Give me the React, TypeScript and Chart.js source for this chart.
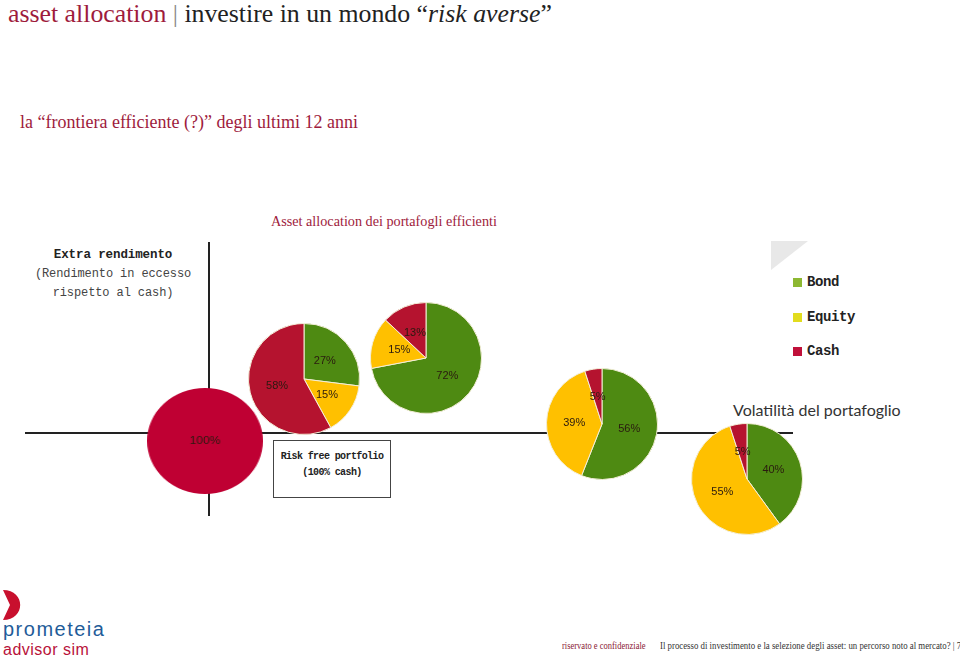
import React, { useEffect, useRef } from "react";
import { Chart, registerables } from "chart.js";

Chart.register(...registerables);

// ---- data ----
const categories = ["Bond", "Equity", "Cash"];
const portfolios = ["Risk free", "P1", "P2", "P3", "P4"];
const bondShare = [0, 27, 72, 56, 40];
const equityShare = [0, 15, 15, 39, 55];
const cashShare = [100, 58, 13, 5, 5];

const sliceColors = ["#4E8A12", "#FFC000", "#B5132F"];
const riskFreeColor = "#BF0033";
const legendColors = ["#8DB832", "#E2DC1E", "#C0103A"];

// layout of each pie on the slide: centre x, centre y, radius x, radius y
const pieLayout = [
  [205, 441, 58, 53],
  [304, 379, 56, 56],
  [426, 358, 56, 56],
  [602, 424, 56, 56],
  [747, 479, 56, 56],
];

const labelPlugin = {
  id: "sliceLabels",
  afterDatasetsDraw(chart: any) {
    const ctx = chart.ctx;
    const meta = chart.getDatasetMeta(0);
    const data = chart.data.datasets[0].data;
    ctx.save();
    ctx.font = '11px "Liberation Sans", Arial, sans-serif';
    ctx.fillStyle = "#2a1a10";
    ctx.textAlign = "center";
    ctx.textBaseline = "middle";
    meta.data.forEach((arc: any, i: number) => {
      const v = data[i];
      if (!v) return;
      let p;
      if (arc.circumference >= Math.PI * 2 - 0.001) {
        p = { x: arc.x, y: arc.y };
      } else {
        p = arc.tooltipPosition(false);
      }
      ctx.fillText(v + "%", p.x, p.y);
    });
    ctx.restore();
  },
};

function Pie({ index }: { index: number }) {
  const ref = useRef<HTMLCanvasElement>(null);
  const [cx, cy, rx, ry] = pieLayout[index];
  const size = Math.min(rx, ry) * 2;
  useEffect(() => {
    if (!ref.current) return;
    const values = [bondShare[index], equityShare[index], cashShare[index]];
    const single = values.filter((v) => v > 0).length === 1;
    const chart = new Chart(ref.current, {
      type: "pie",
      data: {
        labels: categories,
        datasets: [
          {
            data: values,
            backgroundColor: index === 0 ? [sliceColors[0], sliceColors[1], riskFreeColor] : sliceColors,
            borderColor: "#F3EED8",
            borderWidth: single ? 0 : values.map((v) => (v > 0 ? 1 : 0)),
          },
        ],
      },
      options: {
        responsive: false,
        animation: false,
        events: [],
        layout: { padding: 0 },
        plugins: { legend: { display: false }, tooltip: { enabled: false } },
      },
      plugins: [labelPlugin],
    });
    return () => chart.destroy();
  }, [index]);
  return (
    <canvas
      ref={ref}
      width={size}
      height={size}
      style={{
        position: "absolute",
        left: cx - rx,
        top: cy - ry,
        width: rx * 2,
        height: ry * 2,
      }}
    />
  );
}

const slabFont = '"Liberation Mono", "Courier New", monospace';
const serif = '"Liberation Serif", "Times New Roman", serif';
const logoFont = '"Liberation Sans", Arial, sans-serif';
const red = "#9E1B3C";

export default function App() {
  return (
    <div
      style={{
        position: "fixed",
        left: 0,
        top: 0,
        width: 960,
        height: 658,
        background: "#fff",
        overflow: "hidden",
        fontFamily: serif,
      }}
    >
      {/* title */}
      <div style={{ position: "absolute", left: 8, top: 0, fontSize: 25.8, lineHeight: "28px", whiteSpace: "nowrap", color: "#222" }}>
        <span style={{ color: red }}>asset allocation</span>
        <span style={{ color: "#888", fontWeight: 300 }}> | </span>
        <span>investire in un mondo “<i>risk averse</i>”</span>
      </div>
      <div style={{ position: "absolute", left: 20, top: 111, fontSize: 18, lineHeight: "22px", color: red, whiteSpace: "nowrap" }}>
        la “frontiera efficiente (?)” degli ultimi 12 anni
      </div>
      <div style={{ position: "absolute", left: 271, top: 211, fontSize: 14.2, lineHeight: "20px", color: red, whiteSpace: "nowrap" }}>
        Asset allocation dei portafogli efficienti
      </div>

      {/* y-axis label */}
      <div
        style={{
          position: "absolute",
          left: 23,
          top: 246,
          width: 180,
          textAlign: "center",
          fontFamily: slabFont,
          fontSize: 12,
          lineHeight: "19px",
          color: "#222",
          letterSpacing: -0.1,
          whiteSpace: "nowrap",
        }}
      >
        <div style={{ fontWeight: "bold", fontSize: 12.5 }}>Extra rendimento</div>
        <div style={{ color: "#444" }}>(Rendimento in eccesso</div>
        <div style={{ color: "#444" }}>rispetto al cash)</div>
      </div>

      {/* axes */}
      <div style={{ position: "absolute", left: 25, top: 432, width: 768, height: 2, background: "#222" }} />
      <div style={{ position: "absolute", left: 208, top: 242, width: 2, height: 274, background: "#222" }} />

      {/* risk free box */}
      <div
        style={{
          position: "absolute",
          left: 273,
          top: 440,
          width: 116,
          height: 48,
          border: "1px solid #444",
          fontFamily: slabFont,
          fontSize: 10,
          lineHeight: "16px",
          color: "#222",
          letterSpacing: -0.6,
          fontWeight: "bold",
          textAlign: "center",
          paddingTop: 8,
          boxSizing: "content-box",
          whiteSpace: "nowrap",
        }}
      >
        <div>Risk free portfolio</div>
        <div>(100% cash)</div>
      </div>

      {/* pies */}
      {portfolios.map((_, i) => (
        <Pie key={i} index={i} />
      ))}

      {/* legend decoration */}
      <svg style={{ position: "absolute", left: 771, top: 241 }} width={38} height={30}>
        <polygon points="0,0 37,0 0,29" fill="#E8E8E8" />
      </svg>
      {categories.map((c, i) => (
        <div key={c} style={{ position: "absolute", left: 793, top: 274 + i * 34.5, height: 16, whiteSpace: "nowrap" }}>
          <span style={{ position: "absolute", left: 0, top: 4, width: 9, height: 9, background: legendColors[i] }} />
          <span style={{ position: "absolute", left: 14, top: 0, fontFamily: slabFont, fontWeight: "bold", fontSize: 14, lineHeight: "16px", color: "#222", letterSpacing: -0.4 }}>
            {c}
          </span>
        </div>
      ))}

      <div style={{ position: "absolute", left: 733, top: 400, fontFamily: "Lato, sans-serif", fontSize: 16, lineHeight: "20px", color: "#333", whiteSpace: "nowrap" }}>
        Volatilità del portafoglio
      </div>

      {/* footer logo */}
      <svg style={{ position: "absolute", left: 0, top: 586 }} width={30} height={40}>
        <path d="M3,4 C 26,4 26,34 3,34 L 10,19 Z" fill="#C8102E" />
      </svg>
      <div style={{ position: "absolute", left: 3, top: 619, fontFamily: logoFont, fontSize: 20, lineHeight: "20px", color: "#1F5C99", whiteSpace: "nowrap", letterSpacing: 1.5 }}>
        prometeia
      </div>
      <div style={{ position: "absolute", left: 3, top: 641.5, fontFamily: logoFont, fontSize: 16, lineHeight: "16px", color: "#B8123A", whiteSpace: "nowrap", letterSpacing: 0.5 }}>
        advisor sim
      </div>
      <div style={{ position: "absolute", left: 562, top: 640, fontSize: 10, lineHeight: "12px", color: "#8A2035", whiteSpace: "nowrap", transform: "scaleX(0.85)", transformOrigin: "left" }}>
        riservato e confidenziale
      </div>
      <div style={{ position: "absolute", left: 660, top: 640, fontSize: 10, lineHeight: "12px", color: "#333", whiteSpace: "nowrap", transform: "scaleX(0.88)", transformOrigin: "left" }}>
        Il processo di investimento e la selezione degli asset: un percorso noto al mercato? | 7
      </div>
    </div>
  );
}
